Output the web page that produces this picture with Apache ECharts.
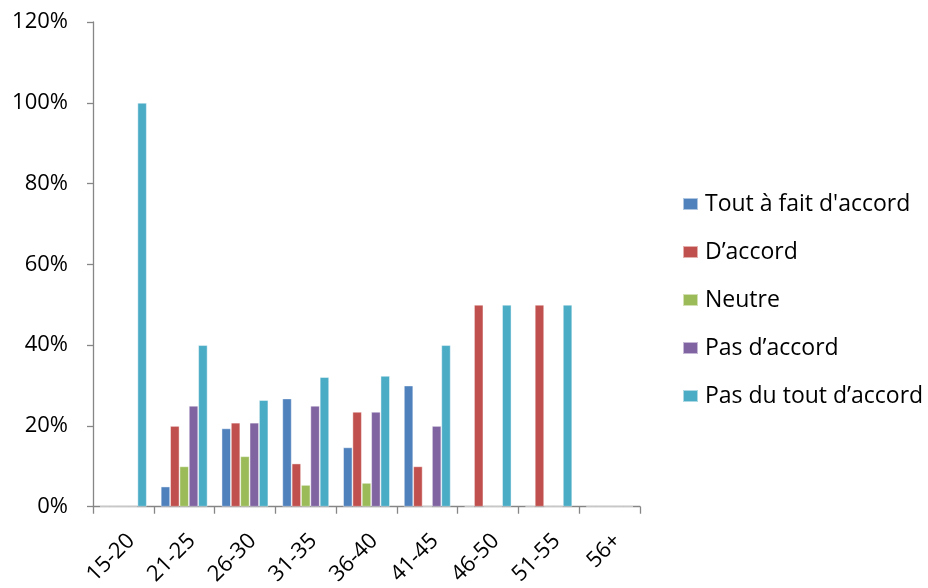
<!DOCTYPE html>
<html><head><meta charset="utf-8">
<script src="https://cdn.jsdelivr.net/npm/echarts@6/dist/echarts.min.js"></script>
<style>html,body{margin:0;padding:0;background:#fff;overflow:hidden}#c{width:928px;height:588px}</style>
</head><body><div id="c"></div>
<script>
var categories = ['15-20','21-25','26-30','31-35','36-40','41-45','46-50','51-55','56+'];
var seriesNames = ["Tout à fait d'accord", 'D’accord', 'Neutre', 'Pas d’accord', 'Pas du tout d’accord'];
var toutAFait   = [0, 5, 19.4, 26.8, 14.7, 30, 0, 0, 0];
var dAccord     = [0, 20, 20.8, 10.7, 23.5, 10, 50, 50, 0];
var neutre      = [0, 10, 12.5, 5.4, 5.9, 0, 0, 0, 0];
var pasDAccord  = [0, 25, 20.8, 25, 23.5, 20, 0, 0, 0];
var pasDuTout   = [100, 40, 26.4, 32.1, 32.4, 40, 50, 50, 0];
var yTicks = [0, 20, 40, 60, 80, 100, 120];
var colors = ['#4F81BD', '#C0504D', '#9BBB59', '#8064A2', '#4BACC6'];
var values = [toutAFait, dAccord, neutre, pasDAccord, pasDuTout];

var font = '"Open Sans", "Noto Sans", sans-serif';
var chart = echarts.init(document.getElementById('c'), null, {renderer: 'canvas'});
chart.setOption({
  animation: false,
  color: colors,
  grid: {left: 93, top: 22, width: 547, height: 485, containLabel: false},
  legend: {
    orient: 'vertical', left: 682, top: 192, padding: 0, itemGap: 24, itemWidth: 15, itemHeight: 12,
    icon: 'rect',
    textStyle: {fontFamily: font, fontSize: 23, lineHeight: 24, color: '#000', padding: [0,0,0,2]},
    data: seriesNames
  },
  xAxis: {
    type: 'category', data: categories,
    axisLine: {lineStyle: {color: '#868686', width: 1.3}},
    axisTick: {show: true, alignWithLabel: false, length: 7, lineStyle: {color: '#868686', width: 1.3}},
    axisLabel: {rotate: 45, fontFamily: font, fontSize: 22, color: '#000', margin: 23,
      verticalAlign: 'top', interval: 0}
  },
  yAxis: {
    type: 'value', min: 0, max: 120, interval: 20,
    splitLine: {show: false},
    axisLine: {show: true, lineStyle: {color: '#868686', width: 1.3}},
    axisTick: {show: true, length: 6, lineStyle: {color: '#868686', width: 1.3}},
    axisLabel: {fontFamily: font, fontSize: 22, color: '#000', margin: 25,
      formatter: function (v) { return yTicks.indexOf(v) >= 0 ? v + '%' : ''; }}
  },
  series: seriesNames.map(function (n, i) {
    return {
      name: n, type: 'bar', data: values[i],
      barGap: '0%', barCategoryGap: '23%',
      itemStyle: {color: colors[i], borderColor: 'rgba(255,255,255,0.55)', borderWidth: 0.8}
    };
  })
});
</script></body></html>
